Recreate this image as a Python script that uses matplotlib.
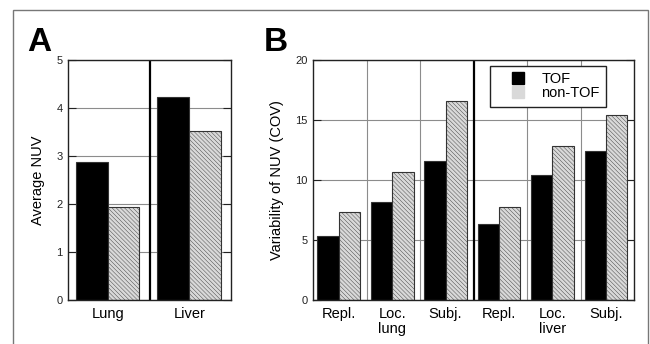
import matplotlib
matplotlib.use('Agg')
import matplotlib.pyplot as plt
from matplotlib.patches import Rectangle, Patch
from matplotlib.legend_handler import HandlerPatch

plt.rcParams['font.family'] = ['Liberation Sans', 'DejaVu Sans']
plt.rcParams['hatch.color'] = '#c4c4c4'
plt.rcParams['hatch.linewidth'] = 0.3

# panel A data
a_groups = ['Lung', 'Liver']
a_tof = [2.87, 4.23]
a_nontof = [1.93, 3.53]

# panel B data
b_labels = ['Repl.', 'Loc.\nlung', 'Subj.', 'Repl.', 'Loc.\nliver', 'Subj.']
b_tof = [5.3, 8.2, 11.6, 6.3, 10.4, 12.45]
b_nontof = [7.3, 10.65, 16.55, 7.75, 12.8, 15.45]

W, H = 650, 344
fig = plt.figure(figsize=(6.5, 3.44), dpi=100)

black = '#000000'
grey = '#d9d9d9'
edge = '#333333'
gridc = '#8c8c8c'
hatch = '\\\\\\\\\\\\\\\\'

# outer frame
fig.patches.append(Rectangle((13 / W, -0.05), (648 - 13) / W, (H - 10) / H + 0.05,
                             transform=fig.transFigure, fill=False,
                             edgecolor='#777777', linewidth=1.0))


def style_axes(ax):
    for s in ax.spines.values():
        s.set_linewidth(1.0)
        s.set_color('#222222')
    ax.tick_params(axis='y', direction='in', length=6, width=0.8, labelsize=8,
                   right=True, pad=4, colors='#222222')
    ax.tick_params(axis='x', length=0, labelsize=10.5, pad=5)
    ax.yaxis.grid(True, color=gridc, linewidth=0.8)
    ax.set_axisbelow(True)


# ---- panel A ----
axA = fig.add_axes([68 / W, 1 - 300 / H, 163 / W, 240 / H])
xa = [0, 1]
axA.bar([x + 0.29 for x in xa], a_tof, width=0.39, color=black, edgecolor=edge, lw=0.8)
axA.bar([x + 0.68 for x in xa], a_nontof, width=0.39, color=grey, edgecolor=edge,
        lw=0.8, hatch=hatch)
axA.set_xlim(0, 2)
axA.set_ylim(0, 5)
axA.set_yticks(range(0, 6))
axA.set_xticks([x + 0.49 for x in xa])
axA.set_xticklabels(a_groups)
style_axes(axA)
axA.axvline(1, color='black', lw=1.6)
axA.set_ylabel('Average NUV', fontsize=10.5, labelpad=8)
fig.text(27 / W, 1 - 51 / H, 'A', fontsize=24, fontweight='bold')

# ---- panel B ----
axB = fig.add_axes([313.3 / W, 1 - 300 / H, 320.7 / W, 240 / H])
xb = list(range(len(b_labels)))
axB.bar([x + 0.275 for x in xb], b_tof, width=0.4, color=black, edgecolor=edge, lw=0.8)
axB.bar([x + 0.675 for x in xb], b_nontof, width=0.4, color=grey, edgecolor=edge,
        lw=0.8, hatch=hatch)
axB.set_xlim(0, 6)
axB.set_ylim(0, 20)
axB.set_yticks(range(0, 21, 5))
axB.set_xticks([x + 0.475 for x in xb])
axB.set_xticklabels(b_labels, linespacing=1.1)
style_axes(axB)
for v in [1, 2, 4, 5]:
    axB.axvline(v, color=gridc, lw=0.8, zorder=0)
axB.axvline(3, color='black', lw=1.6)
axB.set_ylabel('Variability of NUV (COV)', fontsize=10.5, labelpad=8)
fig.text(264 / W, 1 - 51 / H, 'B', fontsize=24, fontweight='bold')


# legend squares sit at the right end of the handle box
def square(legend, orig_handle, xdescent, ydescent, width, height, fontsize):
    return Rectangle((width - height - xdescent, -ydescent), height, height)


handles = [Patch(facecolor=black, edgecolor=black, label='TOF'),
           Patch(facecolor=grey, edgecolor=grey, label='non-TOF', hatch=hatch)]
leg = axB.legend(handles=handles, loc='upper left',
                 bbox_to_anchor=(176.4 / 320.7, 1 - 5.7 / 240),
                 frameon=True, fancybox=False, fontsize=10.5, handlelength=1.9,
                 handleheight=0.85, handletextpad=1.2, borderpad=0.45,
                 labelspacing=0.0, borderaxespad=0,
                 handler_map={Patch: HandlerPatch(patch_func=square)})
leg.get_frame().set_edgecolor('#222222')
leg.get_frame().set_linewidth(1.0)
leg.get_frame().set_alpha(1)

fig.savefig('out.png', dpi=100)
